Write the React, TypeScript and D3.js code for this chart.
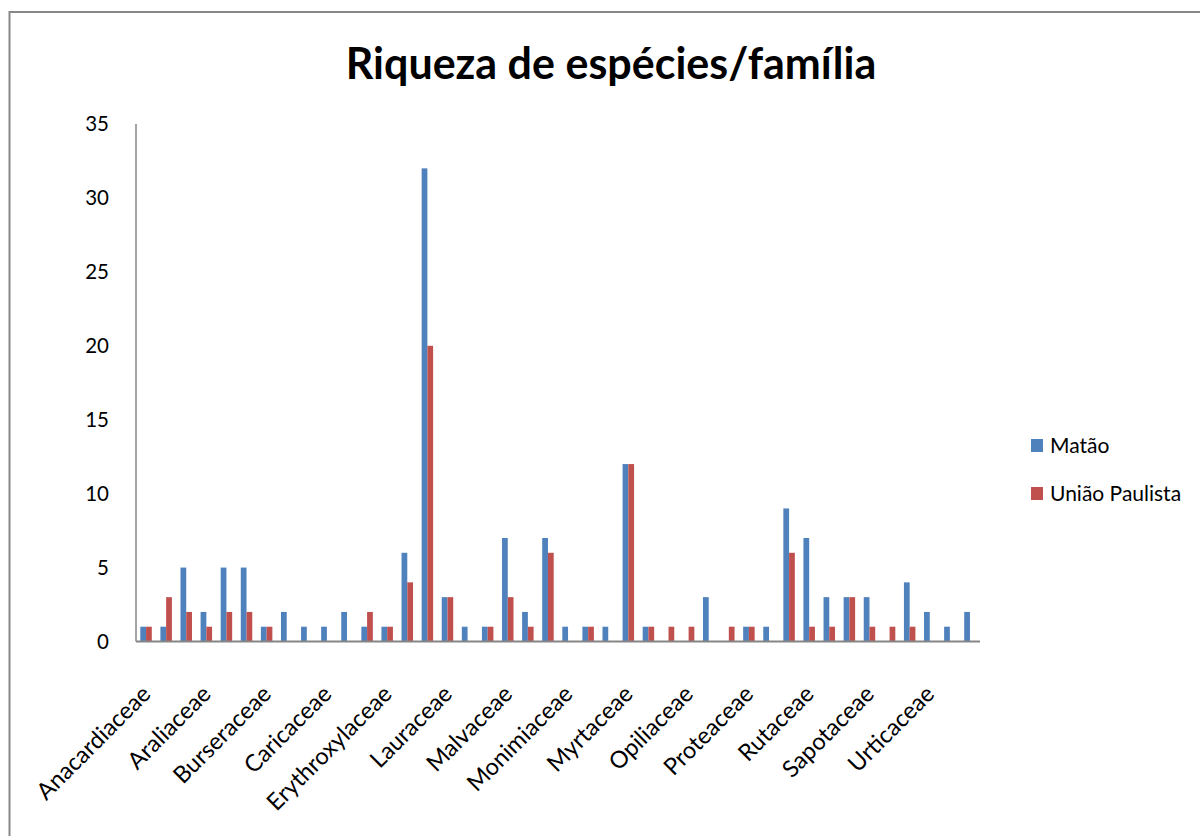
import React from "react";
import * as d3 from "d3";

const families = [
  "Anacardiaceae", "Annonaceae", "Apocynaceae", "Araliaceae", "Arecaceae", "Bignoniaceae",
  "Burseraceae", "Cannabaceae", "Cardiopteridaceae", "Caricaceae", "Celastraceae", "Combretaceae",
  "Erythroxylaceae", "Euphorbiaceae", "Fabaceae", "Lauraceae", "Lecythidaceae", "Malpighiaceae",
  "Malvaceae", "Melastomataceae", "Meliaceae", "Monimiaceae", "Moraceae", "Myrsinaceae",
  "Myrtaceae", "Nyctaginaceae", "Ochnaceae", "Opiliaceae", "Piperaceae", "Polygonaceae",
  "Proteaceae", "Rhamnaceae", "Rubiaceae", "Rutaceae", "Salicaceae", "Sapindaceae",
  "Sapotaceae", "Siparunaceae", "Solanaceae", "Urticaceae", "Verbenaceae", "Vochysiaceae",
];

const matao = [
  1, 1, 5, 2, 5, 5, 1, 2, 1, 1, 2, 1, 1, 6, 32, 3, 1, 1, 7, 2, 7,
  1, 1, 1, 12, 1, 0, 0, 3, 0, 1, 1, 9, 7, 3, 3, 3, 0, 4, 2, 1, 2,
];

const uniaoPaulista = [
  1, 3, 2, 1, 2, 2, 1, 0, 0, 0, 0, 2, 1, 4, 20, 3, 0, 1, 3, 1, 6,
  0, 1, 0, 12, 1, 1, 1, 0, 1, 1, 0, 6, 1, 1, 3, 1, 1, 1, 0, 0, 0,
];

const seriesNames = ["Matão", "União Paulista"];
const seriesColors = ["#4F81BD", "#C0504D"];
const yTicks = [0, 5, 10, 15, 20, 25, 30, 35];

const FONT = "Lato, 'Open Sans', sans-serif";

export default function App() {
  const W = 1200;
  const H = 836;
  const left = 136;
  const right = 980;
  const top = 124;
  const bottom = 641.5;

  const x = d3.scaleBand<string>().domain(families).range([left, right]).paddingInner(0).paddingOuter(0);
  const y = d3.scaleLinear().domain([0, 35]).range([bottom, top]);
  const band = x.bandwidth();
  const bw = band / 3.5;
  const series = [matao, uniaoPaulista];

  return (
    <svg width={W} height={H} style={{ position: "absolute", left: 0, top: 0 }}>
      <rect x={0} y={0} width={W} height={H} fill="#fff" />
      <rect x={9.5} y={12} width={W + 20} height={H + 20} fill="none" stroke="#878787" strokeWidth={2} />
      <text x={611} y={79} textAnchor="middle" fontFamily={FONT} fontWeight="bold" fontSize={43} fill="#000">
        Riqueza de espécies/família
      </text>
      {series.map((vals, s) =>
        vals.map((v, i) =>
          v > 0 ? (
            <rect
              key={`${s}-${i}`}
              x={(x(families[i]) as number) + band / 2 - bw + s * bw}
              y={y(v)}
              width={bw}
              height={y(0) - y(v)}
              fill={seriesColors[s]}
            />
          ) : null
        )
      )}
      <line x1={left} x2={left} y1={top} y2={bottom} stroke="#868686" strokeWidth={1.5} />
      <line x1={left} x2={right} y1={bottom} y2={bottom} stroke="#868686" strokeWidth={2} />
      {yTicks.map((t) => (
        <text key={t} x={109} y={y(t)} dy="0.35em" textAnchor="end" fontFamily={FONT} fontSize={20.5} fill="#000">
          {t}
        </text>
      ))}
      {families.map((f, i) =>
        i % 3 === 0 ? (
          <text
            key={f}
            transform={`translate(${(x(f) as number) + band / 2 + 6},${bottom + 54}) rotate(-45)`}
            textAnchor="end"
            fontFamily={FONT}
            fontSize={23.5}
            fill="#000"
          >
            {f}
          </text>
        ) : null
      )}
      {seriesNames.map((n, s) => (
        <g key={n} transform={`translate(1031,${439 + s * 48})`}>
          <rect x={0} y={0} width={12} height={13} fill={seriesColors[s]} />
          <text x={19} y={7} dy="0.35em" fontFamily={FONT} fontSize={21} fill="#000">
            {n}
          </text>
        </g>
      ))}
    </svg>
  );
}
